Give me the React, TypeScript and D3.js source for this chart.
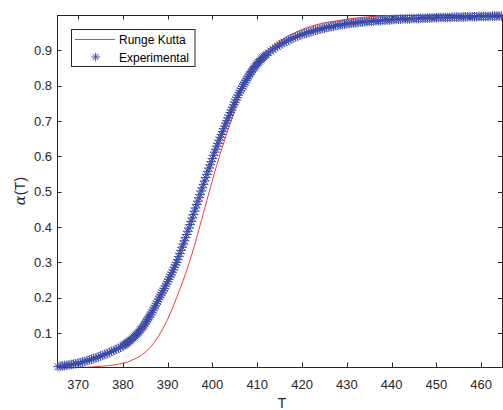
import React from "react";
import * as d3 from "d3";

// Experimental data [T, alpha]
const experimental: [number, number][] = [
  [365.5, 0.005], [366, 0.006], [366.5, 0.007], [367, 0.008], [367.5, 0.009], [368, 0.010], [368.5, 0.011], [369, 0.012], [369.5, 0.013],
  [370, 0.015], [370.5, 0.016], [371, 0.018], [371.5, 0.020], [372, 0.022], [372.5, 0.024], [373, 0.026], [373.5, 0.028], [374, 0.030], [374.5, 0.032],
  [375, 0.035], [375.5, 0.037], [376, 0.040], [376.5, 0.042], [377, 0.045], [377.5, 0.048], [378, 0.051], [378.5, 0.054], [379, 0.057], [379.5, 0.060],
  [380, 0.064], [380.25, 0.066], [380.5, 0.068], [380.75, 0.070], [381, 0.073], [381.25, 0.075], [381.5, 0.078], [381.75, 0.080],
  [382, 0.083], [382.25, 0.086], [382.5, 0.089], [382.75, 0.092], [383, 0.095], [383.25, 0.098], [383.5, 0.102], [383.75, 0.106],
  [384, 0.110], [384.25, 0.114], [384.5, 0.119], [384.75, 0.123], [385, 0.128], [385.25, 0.133], [385.5, 0.138], [385.75, 0.143],
  [386, 0.148], [386.25, 0.153], [386.5, 0.159], [386.75, 0.165], [387, 0.171], [387.25, 0.177], [387.5, 0.183], [387.75, 0.189],
  [388, 0.196], [388.25, 0.202], [388.5, 0.208], [388.75, 0.214], [389, 0.220], [389.25, 0.226], [389.5, 0.233], [389.75, 0.239],
  [390, 0.246], [390.25, 0.252], [390.5, 0.259], [390.75, 0.265], [391, 0.272], [391.25, 0.279], [391.5, 0.286], [391.75, 0.293],
  [392, 0.300], [392.25, 0.308], [392.5, 0.317], [392.75, 0.325], [393, 0.334], [393.25, 0.343], [393.5, 0.352], [393.75, 0.361],
  [394, 0.370], [394.25, 0.379], [394.5, 0.388], [394.75, 0.397], [395, 0.407], [395.25, 0.416], [395.5, 0.426], [395.75, 0.435],
  [396, 0.445], [396.25, 0.454], [396.5, 0.464], [396.75, 0.473], [397, 0.483], [397.25, 0.492], [397.5, 0.502], [397.75, 0.511],
  [398, 0.521], [398.25, 0.530], [398.5, 0.540], [398.75, 0.549], [399, 0.558], [399.25, 0.567], [399.5, 0.576], [399.75, 0.585],
  [400, 0.594], [400.25, 0.603], [400.5, 0.612], [400.75, 0.620], [401, 0.629], [401.25, 0.637], [401.5, 0.646], [401.75, 0.654],
  [402, 0.662], [402.25, 0.670], [402.5, 0.678], [402.75, 0.686], [403, 0.694], [403.25, 0.701], [403.5, 0.709], [403.75, 0.716],
  [404, 0.724], [404.25, 0.731], [404.5, 0.739], [404.75, 0.746], [405, 0.753], [405.25, 0.760], [405.5, 0.767], [405.75, 0.773],
  [406, 0.780], [406.25, 0.786], [406.5, 0.792], [406.75, 0.798], [407, 0.804], [407.25, 0.809], [407.5, 0.815], [407.75, 0.820],
  [408, 0.826], [408.25, 0.831], [408.5, 0.836], [408.75, 0.840], [409, 0.845], [409.25, 0.850], [409.5, 0.854], [409.75, 0.858],
  [410, 0.862], [410.25, 0.866], [410.5, 0.869], [410.75, 0.873], [411, 0.876], [411.25, 0.879], [411.5, 0.882], [411.75, 0.885],
  [412, 0.888], [412.5, 0.893], [413, 0.898], [413.5, 0.903], [414, 0.907], [414.5, 0.911],
  [415, 0.915], [415.5, 0.919], [416, 0.922], [416.5, 0.926], [417, 0.929], [417.5, 0.932], [418, 0.935], [418.5, 0.938], [419, 0.940], [419.5, 0.943],
  [420, 0.945], [420.5, 0.947], [421, 0.949], [421.5, 0.951], [422, 0.953], [422.5, 0.955], [423, 0.957], [423.5, 0.958], [424, 0.960], [424.5, 0.962],
  [425, 0.963], [425.5, 0.965], [426, 0.966], [426.5, 0.967], [427, 0.968], [427.5, 0.970], [428, 0.971], [428.5, 0.972], [429, 0.973], [429.5, 0.974],
  [430, 0.975], [430.5, 0.976], [431, 0.977], [431.5, 0.977], [432, 0.978], [432.5, 0.979], [433, 0.980], [433.5, 0.980], [434, 0.981], [434.5, 0.981],
  [435, 0.982], [435.5, 0.982], [436, 0.983], [436.5, 0.983], [437, 0.984], [437.5, 0.984], [438, 0.985], [438.5, 0.985], [439, 0.986], [439.5, 0.986],
  [440, 0.987], [440.5, 0.987], [441, 0.988], [441.5, 0.988], [442, 0.988], [442.5, 0.989], [443, 0.989], [443.5, 0.989], [444, 0.989], [444.5, 0.990],
  [445, 0.990], [445.5, 0.990], [446, 0.990], [446.5, 0.991], [447, 0.991], [447.5, 0.991], [448, 0.991], [448.5, 0.992], [449, 0.992], [449.5, 0.992],
  [450, 0.992], [450.5, 0.993], [451, 0.993], [451.5, 0.993], [452, 0.993], [452.5, 0.993], [453, 0.993], [453.5, 0.994], [454, 0.994], [454.5, 0.994],
  [455, 0.994], [455.5, 0.994], [456, 0.994], [456.5, 0.995], [457, 0.995], [457.5, 0.995], [458, 0.995], [458.5, 0.995], [459, 0.995], [459.5, 0.996],
  [460, 0.996], [460.5, 0.996], [461, 0.996], [461.5, 0.996], [462, 0.996], [462.5, 0.997], [463, 0.997], [463.5, 0.997], [464, 0.997], [464.5, 0.997],
];

// Runge Kutta solution [T, alpha]
const rungeKutta: [number, number][] = [
  [365, 0.000], [366, 0.000], [367, 0.001], [368, 0.001], [369, 0.001], [370, 0.002], [371, 0.003], [372, 0.003], [373, 0.004], [374, 0.005],
  [375, 0.006], [376, 0.007], [377, 0.008], [378, 0.010], [379, 0.012], [380, 0.014], [381, 0.018], [382, 0.023], [383, 0.029], [384, 0.036],
  [385, 0.046], [386, 0.058], [387, 0.073], [388, 0.092], [389, 0.114], [390, 0.139], [391, 0.168], [392, 0.200], [393, 0.233], [394, 0.268],
  [395, 0.306], [396, 0.348], [397, 0.394], [398, 0.440], [399, 0.487], [400, 0.533], [401, 0.577], [402, 0.618], [403, 0.657], [404, 0.695],
  [405, 0.733], [406, 0.768], [407, 0.799], [408, 0.826], [409, 0.850], [410, 0.870], [411, 0.884], [412, 0.896], [413, 0.906], [414, 0.916],
  [415, 0.925], [416, 0.933], [417, 0.940], [418, 0.947], [419, 0.953], [420, 0.959], [421, 0.964], [422, 0.968], [423, 0.972], [424, 0.975],
  [425, 0.978], [426, 0.980], [427, 0.982], [428, 0.984], [429, 0.986], [430, 0.988], [431, 0.990], [432, 0.991], [433, 0.993], [434, 0.994],
  [435, 0.995], [436, 0.996], [437, 0.997], [438, 0.997], [439, 0.998], [440, 0.998], [445, 0.999], [450, 1.0], [455, 1.0], [460, 1.0], [465, 1.0],
];

const xTicks = [370, 380, 390, 400, 410, 420, 430, 440, 450, 460];
const yTicks = [0.1, 0.2, 0.3, 0.4, 0.5, 0.6, 0.7, 0.8, 0.9];
const xDomain: [number, number] = [365.3, 464.75];
const yDomain: [number, number] = [0.004, 1];
const legendLabels = ["Runge Kutta", "Experimental"];

const W = 503;
const H = 410;
const L = 57;
const R = 502.5;
const T = 15;
const B = 367;

const AX = "#262626";
const RED = "#f23a3a";
const BLUE = "#3b4aa6";
const FONT = "'Liberation Sans', Arial, Helvetica, sans-serif";

function asterisk(cx: number, cy: number, r: number) {
  const d = r * 0.7071;
  return `M${cx - r},${cy}L${cx + r},${cy}M${cx},${cy - r}L${cx},${cy + r}M${cx - d},${cy - d}L${cx + d},${cy + d}M${cx - d},${cy + d}L${cx + d},${cy - d}`;
}

export default function App() {
  const x = d3.scaleLinear().domain(xDomain).range([L, R]);
  const y = d3.scaleLinear().domain(yDomain).range([B, T]);
  const line = d3
    .line<[number, number]>()
    .x((d) => x(d[0]))
    .y((d) => y(d[1]));
  const tl = 4.5;
  const markerPath = experimental.map((d) => asterisk(x(d[0]), y(d[1]), 4.8)).join("");

  return (
    <svg
      width={W}
      height={H}
      style={{ position: "absolute", left: 0, top: 0, background: "#fff" }}
      fontFamily={FONT}
    >
      <defs>
        <clipPath id="plotclip">
          <rect x={L} y={T} width={R - L} height={B - T} />
        </clipPath>
      </defs>
      <rect x={0} y={0} width={W} height={H} fill="#fff" />
      {/* axes box */}
      <g stroke={AX} strokeWidth={1} fill="none">
        <line x1={L} y1={B + 0.5} x2={W} y2={B + 0.5} />
        <line x1={L} y1={T + 0.5} x2={W} y2={T + 0.5} />
        <line x1={L + 0.5} y1={T} x2={L + 0.5} y2={B + 0.5} />
        <line x1={R} y1={T} x2={R} y2={B + 0.5} />
        {xTicks.map((t) => (
          <g key={"xt" + t}>
            <line x1={Math.round(x(t)) + 0.5} y1={B} x2={Math.round(x(t)) + 0.5} y2={B - tl} />
            <line x1={Math.round(x(t)) + 0.5} y1={T} x2={Math.round(x(t)) + 0.5} y2={T + tl} />
          </g>
        ))}
        {yTicks.map((t) => (
          <g key={"yt" + t}>
            <line x1={L} y1={Math.round(y(t)) + 0.5} x2={L + tl} y2={Math.round(y(t)) + 0.5} />
            <line x1={R} y1={Math.round(y(t)) + 0.5} x2={R - tl} y2={Math.round(y(t)) + 0.5} />
          </g>
        ))}
      </g>
      <g fill={AX} fontSize={13}>
        {xTicks.map((t) => (
          <text key={"xl" + t} x={x(t)} y={389} textAnchor="middle">
            {t}
          </text>
        ))}
        {yTicks.map((t) => (
          <text key={"yl" + t} x={52} y={y(t) + 4.5} textAnchor="end">
            {t.toFixed(1)}
          </text>
        ))}
      </g>
      <text x={282} y={408} textAnchor="middle" fontSize={14.5} fill={AX}>
        T
      </text>
      <text
        transform={`translate(25,${(T + B) / 2}) rotate(-90)`}
        textAnchor="middle"
        fontSize={14.5}
        fill={AX}
      >
        <tspan fontFamily="'DejaVu Serif', 'Liberation Serif', serif" fontStyle="italic">α</tspan>(T)
      </text>
      {/* Runge Kutta line */}
      <path d={line(rungeKutta) || ""} fill="none" stroke={RED} strokeWidth={1} clipPath="url(#plotclip)" />
      {/* Experimental markers */}
      <path d={markerPath} fill="none" stroke={BLUE} strokeWidth={1} />
      {/* legend */}
      <g>
        <rect x={71.5} y={29.5} width={123.5} height={37} fill="#fff" stroke={AX} strokeWidth={1} />
        <line x1={75} y1={39.5} x2={115} y2={39.5} stroke={RED} strokeWidth={1} />
        <path d={asterisk(95.7, 57, 4.3)} stroke={BLUE} strokeWidth={1} fill="none" />
        <text x={119} y={44} fontSize={12} fill="#000">
          {legendLabels[0]}
        </text>
        <text x={119} y={61.5} fontSize={12} fill="#000">
          {legendLabels[1]}
        </text>
      </g>
    </svg>
  );
}
